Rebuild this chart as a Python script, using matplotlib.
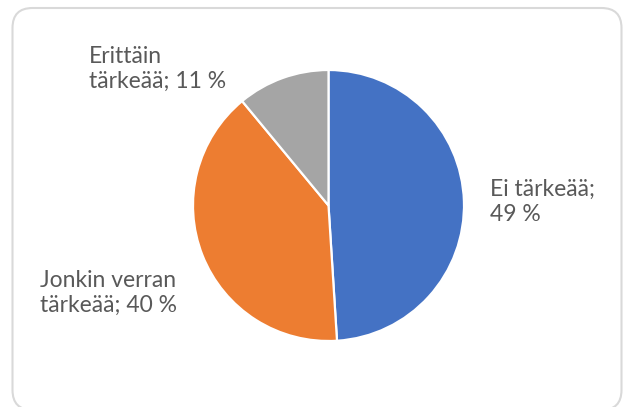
import matplotlib.pyplot as plt
from matplotlib.patches import FancyBboxPatch

# survey answers: share of respondents
labels = ["Ei tärkeää", "Jonkin verran tärkeää", "Erittäin tärkeää"]
values = [49, 40, 11]
colors = ["#4472C4", "#ED7D31", "#A5A5A5"]
label_texts = ["Ei tärkeää;\n{} %", "Jonkin verran\ntärkeää; {} %", "Erittäin\ntärkeää; {} %"]

W, H = 625, 407
fig = plt.figure(figsize=(W / 100, H / 100), dpi=100)
ax = fig.add_axes([0, 0, 1, 1])

ax.pie(values, colors=colors, startangle=90, counterclock=False,
       center=(328.5, H - 205.5), radius=135.5,
       wedgeprops=dict(edgecolor="white", linewidth=1.6))

ax.set_xlim(0, W)
ax.set_ylim(0, H)
ax.set_aspect("equal")
ax.axis("off")

# rounded chart frame
frame = FancyBboxPatch((12.5 + 20, -3 + 20), 609 - 40, 399 - 20 - 20 + 3,
                       boxstyle="round,pad=20", facecolor="none",
                       edgecolor="#D9D9D9", linewidth=1.5, zorder=0)
ax.add_patch(frame)

# data labels (left edge x, vertical centre y in pixels from the top)
label_pos = [(490, 202), (40, 293), (89, 69)]
for txt, v, (x, y) in zip(label_texts, values, label_pos):
    ax.text(x, H - y, txt.format(v), ha="left", va="center", ma="left",
            fontsize=16.5, family="Lato", color="#595959", linespacing=1.25)

fig.savefig("out.png", dpi=100)
